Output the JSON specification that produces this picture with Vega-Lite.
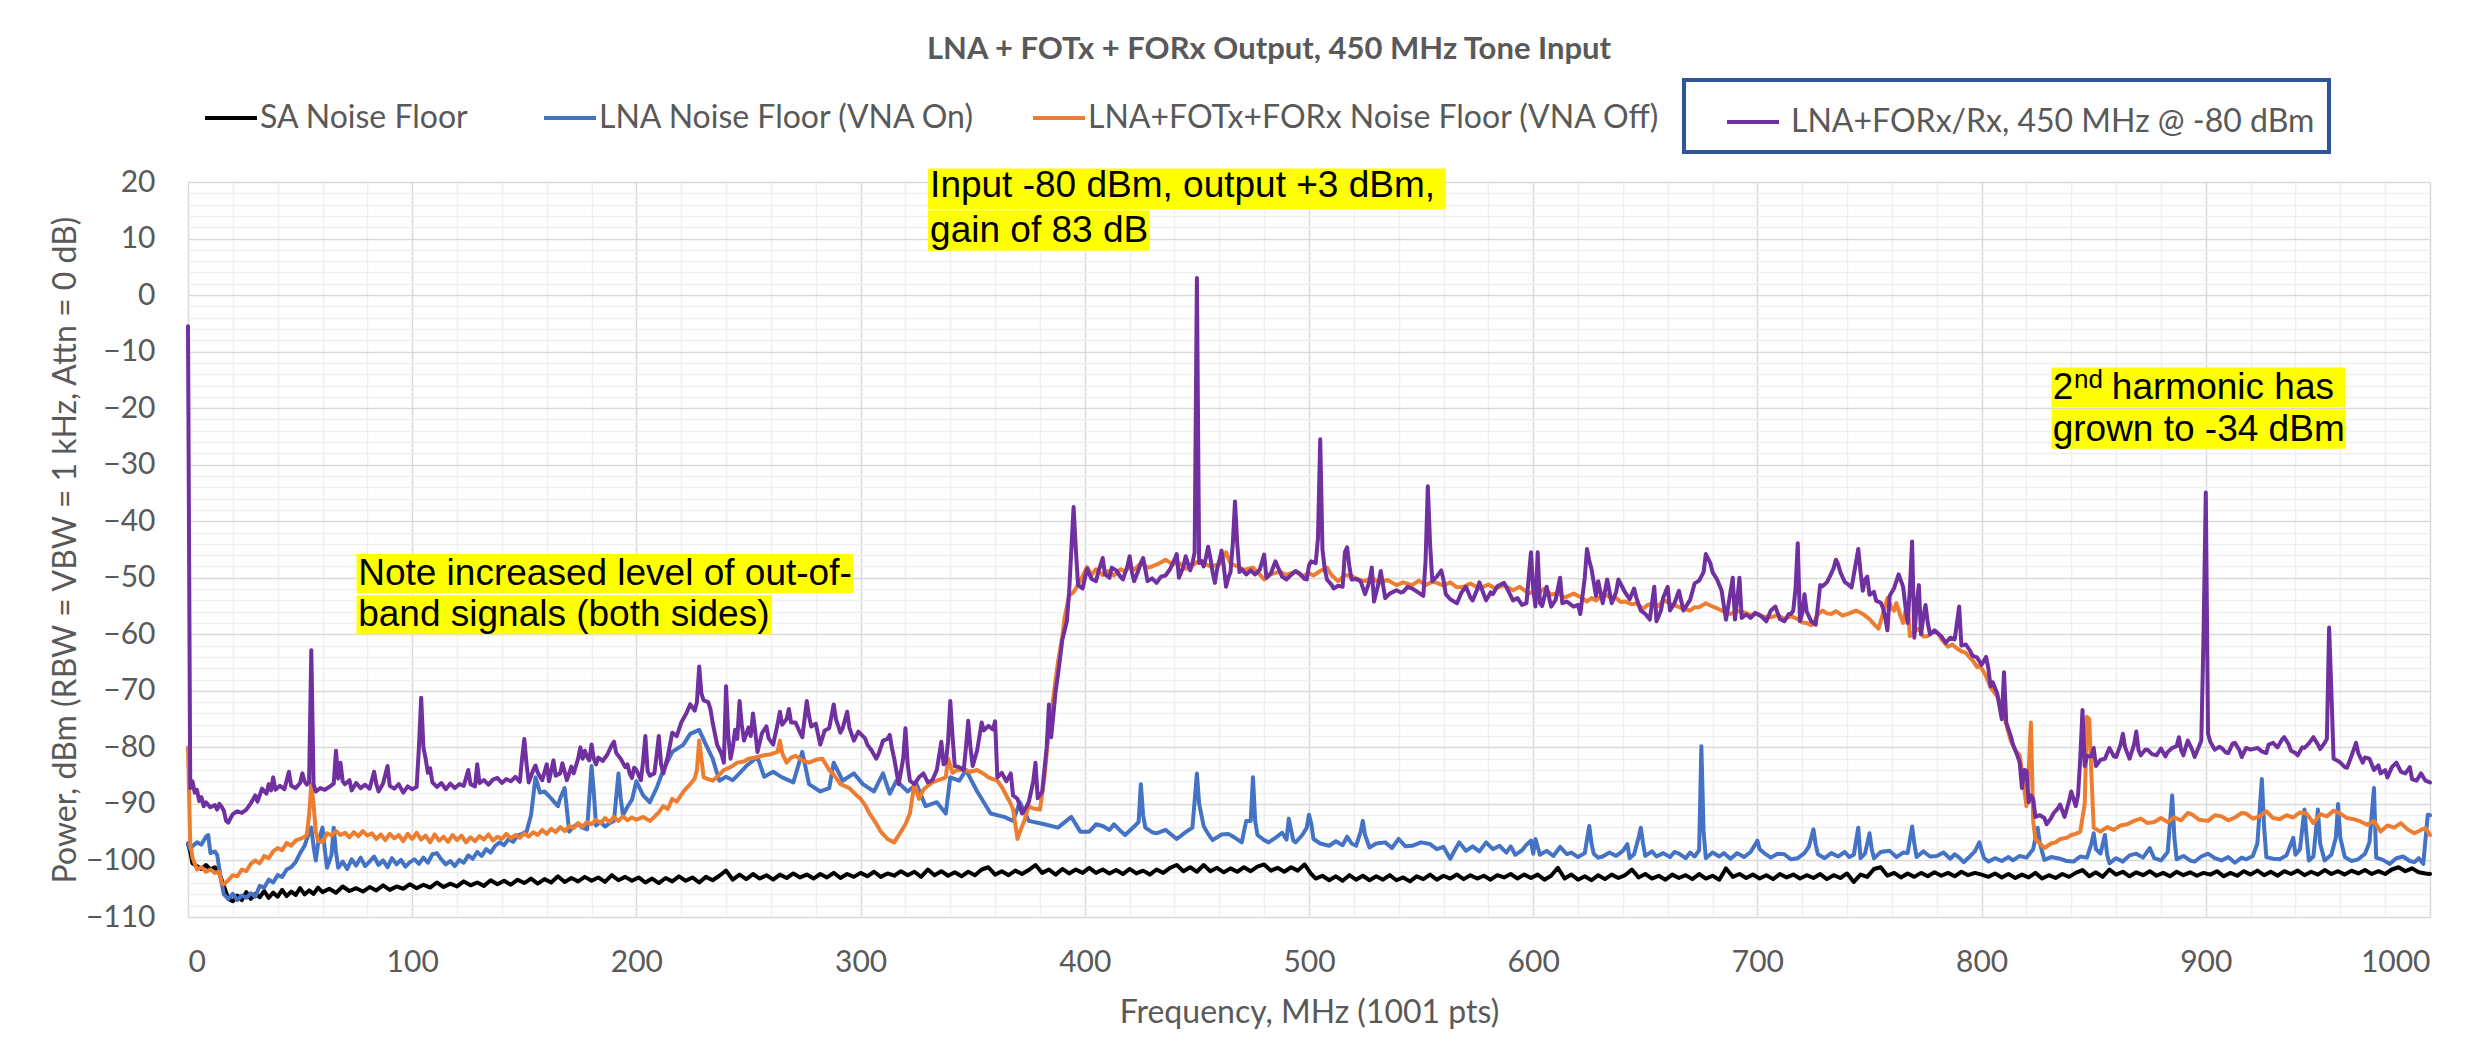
{
"$schema": "https://vega.github.io/schema/vega-lite/v6.json",
"width": 2242, "height": 735,
"autosize": {"type": "none"},
"padding": {"left": 188, "top": 182, "right": 56, "bottom": 145},
"background": "white",
"config": {
  "view": {"stroke": null},
  "font": "Lato",
  "axis": {"labelFont": "Lato", "labelFontSize": 30, "labelColor": "#595959", "titleFont": "Lato", "titleFontSize": 32, "titleColor": "#595959", "titleFontWeight": "normal", "domain": false, "ticks": false, "tickSize": 0},
  "legend": {"labelFont": "Lato", "labelFontSize": 32, "labelColor": "#595959", "labelLimit": 900, "symbolType": "stroke", "symbolSize": 2704, "symbolStrokeWidth": 4, "labelOffset": 1, "orient": "none", "direction": "horizontal", "padding": 0}
},
"title": {"text": "LNA + FOTx + FORx Output, 450 MHz Tone Input", "font": "Lato", "fontSize": 31, "fontWeight": "bold", "color": "#595959", "anchor": "middle", "frame": "group", "dx": -40, "offset": 12},
"datasets": {
"sa": [{"f":0,"v":-97},{"f":1,"v":-98.5},{"f":2,"v":-100.5},{"f":4,"v":-101},{"f":6,"v":-101.5},{"f":8,"v":-100.8},{"f":10,"v":-101.6},{"f":12,"v":-101.2},{"f":14,"v":-102.3},{"f":16,"v":-104.5},{"f":18,"v":-106.8},{"f":20,"v":-107.2},{"f":22,"v":-106.2},{"f":24,"v":-107},{"f":26,"v":-105.6},{"f":28,"v":-106.8},{"f":30,"v":-105.9},{"f":32,"v":-106.5},{"f":34,"v":-105.4},{"f":36,"v":-106.6},{"f":38,"v":-105.7},{"f":40,"v":-106.4},{"f":42,"v":-105.2},{"f":44,"v":-106.3},{"f":46,"v":-105.5},{"f":48,"v":-106.1},{"f":50,"v":-104.9},{"f":52,"v":-106},{"f":54,"v":-105.3},{"f":56,"v":-105.9},{"f":58,"v":-104.8},{"f":60,"v":-105.6},{"f":63,"v":-105},{"f":66,"v":-105.7},{"f":69,"v":-104.6},{"f":72,"v":-105.4},{"f":75,"v":-104.9},{"f":78,"v":-105.5},{"f":81,"v":-104.7},{"f":84,"v":-105.3},{"f":87,"v":-104.4},{"f":90,"v":-105.2},{"f":93,"v":-104.6},{"f":96,"v":-105},{"f":99,"v":-104.2},{"f":102,"v":-104.9},{"f":105,"v":-104.3},{"f":108,"v":-104.8},{"f":111,"v":-103.9},{"f":114,"v":-104.7},{"f":117,"v":-104.1},{"f":120,"v":-104.6},{"f":123,"v":-103.7},{"f":126,"v":-104.4},{"f":129,"v":-103.9},{"f":132,"v":-104.5},{"f":135,"v":-103.5},{"f":138,"v":-104.2},{"f":141,"v":-103.6},{"f":144,"v":-104.3},{"f":147,"v":-103.4},{"f":150,"v":-104},{"f":153,"v":-103.2},{"f":156,"v":-104.1},{"f":159,"v":-103.3},{"f":162,"v":-103.9},{"f":165,"v":-102.8},{"f":168,"v":-103.8},{"f":171,"v":-103.1},{"f":174,"v":-103.7},{"f":177,"v":-102.9},{"f":180,"v":-103.6},{"f":183,"v":-103},{"f":186,"v":-103.8},{"f":189,"v":-102.6},{"f":192,"v":-103.5},{"f":195,"v":-102.9},{"f":198,"v":-103.6},{"f":201,"v":-103},{"f":204,"v":-103.9},{"f":207,"v":-103.2},{"f":210,"v":-104},{"f":213,"v":-103.1},{"f":216,"v":-103.7},{"f":219,"v":-102.8},{"f":222,"v":-103.6},{"f":225,"v":-103},{"f":228,"v":-103.9},{"f":231,"v":-102.9},{"f":234,"v":-103.5},{"f":237,"v":-102.7},{"f":240,"v":-101.8},{"f":243,"v":-103.4},{"f":246,"v":-102.5},{"f":249,"v":-103.3},{"f":252,"v":-102.4},{"f":255,"v":-103.2},{"f":258,"v":-102.6},{"f":261,"v":-103.4},{"f":264,"v":-102.5},{"f":267,"v":-103.1},{"f":270,"v":-102.3},{"f":273,"v":-103},{"f":276,"v":-102.5},{"f":279,"v":-103.2},{"f":282,"v":-102.4},{"f":285,"v":-103},{"f":288,"v":-102.2},{"f":291,"v":-103.1},{"f":294,"v":-102.4},{"f":297,"v":-102.9},{"f":300,"v":-102.2},{"f":303,"v":-102.8},{"f":306,"v":-102},{"f":309,"v":-102.9},{"f":312,"v":-102.3},{"f":315,"v":-102.7},{"f":318,"v":-101.9},{"f":321,"v":-102.6},{"f":324,"v":-102},{"f":327,"v":-102.9},{"f":330,"v":-101.6},{"f":333,"v":-102.6},{"f":336,"v":-101.9},{"f":339,"v":-102.7},{"f":342,"v":-102.1},{"f":345,"v":-102.8},{"f":348,"v":-102},{"f":351,"v":-102.6},{"f":354,"v":-101.6},{"f":357,"v":-101.2},{"f":360,"v":-102.5},{"f":363,"v":-101.9},{"f":366,"v":-102.6},{"f":369,"v":-101.8},{"f":372,"v":-102.4},{"f":375,"v":-101.7},{"f":378,"v":-100.8},{"f":381,"v":-102.2},{"f":384,"v":-101.6},{"f":387,"v":-102.5},{"f":390,"v":-101.5},{"f":393,"v":-102.3},{"f":396,"v":-101.6},{"f":399,"v":-102.2},{"f":402,"v":-101.3},{"f":405,"v":-102.2},{"f":408,"v":-101.6},{"f":411,"v":-102.3},{"f":414,"v":-101.7},{"f":417,"v":-102.4},{"f":420,"v":-101.5},{"f":423,"v":-102.3},{"f":426,"v":-101.8},{"f":429,"v":-102.5},{"f":432,"v":-101.6},{"f":435,"v":-102.2},{"f":438,"v":-101.3},{"f":441,"v":-100.8},{"f":444,"v":-101.9},{"f":447,"v":-101.2},{"f":450,"v":-102},{"f":453,"v":-100.8},{"f":456,"v":-101.9},{"f":459,"v":-101.3},{"f":462,"v":-102.1},{"f":465,"v":-101.4},{"f":468,"v":-102},{"f":471,"v":-101.2},{"f":474,"v":-101.9},{"f":477,"v":-101.1},{"f":480,"v":-100.7},{"f":483,"v":-101.8},{"f":486,"v":-101.3},{"f":489,"v":-102},{"f":492,"v":-101.2},{"f":495,"v":-101.8},{"f":498,"v":-100.7},{"f":501,"v":-102.4},{"f":503,"v":-103.2},{"f":506,"v":-102.7},{"f":509,"v":-103.5},{"f":512,"v":-102.8},{"f":515,"v":-103.6},{"f":518,"v":-102.6},{"f":521,"v":-103.4},{"f":524,"v":-102.7},{"f":527,"v":-103.5},{"f":530,"v":-102.8},{"f":533,"v":-103.4},{"f":536,"v":-102.6},{"f":539,"v":-103.5},{"f":542,"v":-103},{"f":545,"v":-103.7},{"f":548,"v":-102.8},{"f":551,"v":-103.3},{"f":554,"v":-102.5},{"f":557,"v":-103.4},{"f":560,"v":-102.7},{"f":563,"v":-103.2},{"f":566,"v":-102.5},{"f":569,"v":-103.3},{"f":572,"v":-102.6},{"f":575,"v":-103.2},{"f":578,"v":-102.7},{"f":581,"v":-103.4},{"f":584,"v":-102.6},{"f":587,"v":-103},{"f":590,"v":-102.4},{"f":593,"v":-103.2},{"f":596,"v":-102.5},{"f":599,"v":-103.1},{"f":602,"v":-102.5},{"f":605,"v":-103.4},{"f":608,"v":-102.7},{"f":611,"v":-101.3},{"f":614,"v":-103.2},{"f":617,"v":-102.5},{"f":620,"v":-103.4},{"f":623,"v":-102.8},{"f":626,"v":-103.5},{"f":629,"v":-102.6},{"f":632,"v":-103.3},{"f":635,"v":-102.5},{"f":638,"v":-103.1},{"f":641,"v":-102.6},{"f":644,"v":-101.6},{"f":647,"v":-103},{"f":650,"v":-102.4},{"f":653,"v":-103.2},{"f":656,"v":-102.7},{"f":659,"v":-103.4},{"f":662,"v":-102.5},{"f":665,"v":-103.1},{"f":668,"v":-102.6},{"f":671,"v":-103.3},{"f":674,"v":-102.4},{"f":677,"v":-103.2},{"f":680,"v":-102.7},{"f":683,"v":-103.4},{"f":686,"v":-101.4},{"f":689,"v":-102.9},{"f":692,"v":-102.4},{"f":695,"v":-103.1},{"f":698,"v":-102.5},{"f":701,"v":-103.2},{"f":704,"v":-102.6},{"f":707,"v":-103.3},{"f":710,"v":-102.4},{"f":713,"v":-103},{"f":716,"v":-102.5},{"f":719,"v":-103.2},{"f":722,"v":-102.6},{"f":725,"v":-103.1},{"f":728,"v":-102.4},{"f":731,"v":-103.3},{"f":734,"v":-102.6},{"f":737,"v":-103.1},{"f":740,"v":-102.3},{"f":743,"v":-103.8},{"f":746,"v":-102.5},{"f":749,"v":-102.9},{"f":752,"v":-101.5},{"f":755,"v":-101.2},{"f":758,"v":-102.7},{"f":761,"v":-102.2},{"f":764,"v":-103},{"f":767,"v":-102.3},{"f":770,"v":-102.9},{"f":773,"v":-102.2},{"f":776,"v":-102.8},{"f":779,"v":-102.1},{"f":782,"v":-102.7},{"f":785,"v":-102.2},{"f":788,"v":-102.8},{"f":791,"v":-102},{"f":794,"v":-102.6},{"f":797,"v":-102.2},{"f":800,"v":-102.5},{"f":803,"v":-102.9},{"f":806,"v":-102.3},{"f":809,"v":-103},{"f":812,"v":-102.4},{"f":815,"v":-103.1},{"f":818,"v":-102.5},{"f":821,"v":-103},{"f":824,"v":-102.2},{"f":827,"v":-103.2},{"f":830,"v":-102.6},{"f":833,"v":-103.1},{"f":836,"v":-102.4},{"f":839,"v":-102.9},{"f":842,"v":-102.2},{"f":845,"v":-101.7},{"f":848,"v":-102.8},{"f":851,"v":-102.1},{"f":854,"v":-102.9},{"f":857,"v":-101.6},{"f":860,"v":-102.5},{"f":863,"v":-102},{"f":866,"v":-102.8},{"f":869,"v":-102.1},{"f":872,"v":-102.6},{"f":875,"v":-101.9},{"f":878,"v":-102.7},{"f":881,"v":-102.2},{"f":884,"v":-102.8},{"f":887,"v":-102},{"f":890,"v":-102.6},{"f":893,"v":-102.1},{"f":896,"v":-102.7},{"f":899,"v":-102.2},{"f":902,"v":-102.5},{"f":905,"v":-101.9},{"f":908,"v":-102.8},{"f":911,"v":-102.2},{"f":914,"v":-102.7},{"f":917,"v":-101.9},{"f":920,"v":-102.5},{"f":923,"v":-101.8},{"f":926,"v":-102.6},{"f":929,"v":-102},{"f":932,"v":-102.7},{"f":935,"v":-101.9},{"f":938,"v":-102.4},{"f":941,"v":-101.8},{"f":944,"v":-102.6},{"f":947,"v":-102},{"f":950,"v":-102.5},{"f":953,"v":-101.7},{"f":956,"v":-102.4},{"f":959,"v":-101.9},{"f":962,"v":-102.5},{"f":965,"v":-101.8},{"f":968,"v":-102.3},{"f":971,"v":-101.7},{"f":974,"v":-102.4},{"f":977,"v":-101.9},{"f":980,"v":-102.4},{"f":983,"v":-101.6},{"f":986,"v":-101.2},{"f":989,"v":-101.9},{"f":992,"v":-101.4},{"f":995,"v":-102.1},{"f":998,"v":-102.3},{"f":1000,"v":-102.4}],
"lna": [{"f":0,"v":-97},{"f":1,"v":-98},{"f":2,"v":-97.5},{"f":4,"v":-96.8},{"f":6,"v":-97.2},{"f":8,"v":-95.8},{"f":9,"v":-95.5},{"f":10,"v":-98.7},{"f":12,"v":-98.4},{"f":13,"v":-99},{"f":15,"v":-104},{"f":16,"v":-106},{"f":18,"v":-106.8},{"f":20,"v":-105.9},{"f":22,"v":-107},{"f":24,"v":-106.2},{"f":26,"v":-106.6},{"f":28,"v":-105.8},{"f":30,"v":-106.4},{"f":32,"v":-104.5},{"f":34,"v":-104.8},{"f":36,"v":-103.4},{"f":38,"v":-103.9},{"f":40,"v":-102.6},{"f":42,"v":-102.9},{"f":44,"v":-101.6},{"f":46,"v":-101.2},{"f":48,"v":-100.3},{"f":50,"v":-98.7},{"f":52,"v":-97.4},{"f":53,"v":-96.2},{"f":55,"v":-94.2},{"f":56,"v":-97.5},{"f":57,"v":-100},{"f":58,"v":-97},{"f":60,"v":-94.2},{"f":61,"v":-98},{"f":62,"v":-101.3},{"f":64,"v":-99},{"f":65,"v":-94.2},{"f":66,"v":-98.5},{"f":67,"v":-101.3},{"f":69,"v":-100.2},{"f":71,"v":-101.5},{"f":73,"v":-99.8},{"f":75,"v":-100.9},{"f":77,"v":-99.5},{"f":79,"v":-101},{"f":81,"v":-100.2},{"f":83,"v":-99.3},{"f":85,"v":-100.8},{"f":87,"v":-100},{"f":89,"v":-101.2},{"f":91,"v":-99.6},{"f":93,"v":-100.7},{"f":95,"v":-99.9},{"f":97,"v":-101.1},{"f":99,"v":-100.3},{"f":101,"v":-99.8},{"f":103,"v":-100.6},{"f":105,"v":-99.5},{"f":107,"v":-100.4},{"f":109,"v":-98.9},{"f":111,"v":-98.7},{"f":113,"v":-99.8},{"f":115,"v":-100.7},{"f":117,"v":-100.1},{"f":119,"v":-101},{"f":121,"v":-99.9},{"f":123,"v":-100.4},{"f":125,"v":-99.1},{"f":127,"v":-99.7},{"f":129,"v":-98.5},{"f":131,"v":-99.2},{"f":133,"v":-98},{"f":135,"v":-98.6},{"f":137,"v":-97.4},{"f":139,"v":-96.8},{"f":141,"v":-97.3},{"f":143,"v":-96.2},{"f":145,"v":-96.7},{"f":147,"v":-95.6},{"f":149,"v":-95.3},{"f":151,"v":-94.9},{"f":153,"v":-92},{"f":155,"v":-85.3},{"f":157,"v":-88},{"f":159,"v":-87.8},{"f":161,"v":-88.6},{"f":163,"v":-89.5},{"f":165,"v":-90.4},{"f":166,"v":-89},{"f":168,"v":-87.2},{"f":169,"v":-91},{"f":170,"v":-94.9},{"f":172,"v":-94},{"f":174,"v":-93.5},{"f":176,"v":-94.2},{"f":178,"v":-94.5},{"f":180,"v":-83.3},{"f":181,"v":-88},{"f":182,"v":-93.8},{"f":184,"v":-93.2},{"f":186,"v":-94},{"f":188,"v":-93.4},{"f":190,"v":-93},{"f":192,"v":-84.6},{"f":193,"v":-89},{"f":194,"v":-92},{"f":196,"v":-90.5},{"f":198,"v":-89.3},{"f":200,"v":-86},{"f":203,"v":-88.5},{"f":206,"v":-89.7},{"f":209,"v":-87.2},{"f":212,"v":-84},{"f":216,"v":-80.8},{"f":221,"v":-79.5},{"f":224,"v":-77.6},{"f":228,"v":-76.9},{"f":231,"v":-79.5},{"f":234,"v":-82},{"f":237,"v":-85.9},{"f":240,"v":-85.2},{"f":243,"v":-85.8},{"f":245,"v":-85},{"f":249,"v":-83.3},{"f":254,"v":-81.7},{"f":257,"v":-85.2},{"f":261,"v":-84.3},{"f":265,"v":-85.3},{"f":270,"v":-86.2},{"f":274,"v":-80.8},{"f":277,"v":-86.5},{"f":282,"v":-87.8},{"f":286,"v":-87.2},{"f":288,"v":-82.7},{"f":292,"v":-85.9},{"f":297,"v":-84.6},{"f":301,"v":-86.5},{"f":306,"v":-87.8},{"f":310,"v":-84.6},{"f":313,"v":-88.2},{"f":316,"v":-85.9},{"f":321,"v":-87.8},{"f":325,"v":-86.5},{"f":329,"v":-90.4},{"f":334,"v":-89.7},{"f":338,"v":-91.7},{"f":340,"v":-85.3},{"f":344,"v":-85.9},{"f":347,"v":-84},{"f":352,"v":-87.8},{"f":358,"v":-91.7},{"f":364,"v":-92.3},{"f":368,"v":-93},{"f":371,"v":-89.7},{"f":375,"v":-93},{"f":382,"v":-93.6},{"f":388,"v":-94.2},{"f":394,"v":-92.3},{"f":398,"v":-94.9},{"f":402,"v":-94.9},{"f":405,"v":-93.6},{"f":408,"v":-93.9},{"f":411,"v":-94.6},{"f":413,"v":-93.6},{"f":416,"v":-94.8},{"f":418,"v":-95.5},{"f":422,"v":-94},{"f":424,"v":-93.2},{"f":425,"v":-86.5},{"f":426,"v":-92},{"f":427,"v":-94.2},{"f":430,"v":-95},{"f":432,"v":-95.2},{"f":436,"v":-94.6},{"f":441,"v":-96.2},{"f":445,"v":-95},{"f":448,"v":-94.2},{"f":450,"v":-84.6},{"f":451,"v":-90},{"f":453,"v":-93.9},{"f":455,"v":-95.3},{"f":457,"v":-96.4},{"f":461,"v":-95.4},{"f":464,"v":-95.3},{"f":467,"v":-96},{"f":470,"v":-96.8},{"f":472,"v":-93},{"f":474,"v":-93},{"f":475,"v":-85.3},{"f":476,"v":-93},{"f":477,"v":-95.5},{"f":480,"v":-96.4},{"f":482,"v":-96.8},{"f":485,"v":-96},{"f":488,"v":-95.1},{"f":490,"v":-96.3},{"f":491,"v":-92.6},{"f":493,"v":-96.5},{"f":494,"v":-96.8},{"f":497,"v":-95.5},{"f":499,"v":-94.2},{"f":500,"v":-91.9},{"f":501,"v":-93.5},{"f":502,"v":-96.2},{"f":505,"v":-97},{"f":509,"v":-97.4},{"f":512,"v":-96.6},{"f":515,"v":-97.3},{"f":517,"v":-95.8},{"f":519,"v":-97},{"f":521,"v":-97.4},{"f":523,"v":-95},{"f":524,"v":-93},{"f":525,"v":-95.5},{"f":527,"v":-97.7},{"f":530,"v":-97},{"f":534,"v":-96.8},{"f":537,"v":-97.8},{"f":540,"v":-96.2},{"f":543,"v":-97.5},{"f":546,"v":-97.4},{"f":550,"v":-96.8},{"f":554,"v":-97.1},{"f":557,"v":-98},{"f":560,"v":-97.6},{"f":563,"v":-99.7},{"f":565,"v":-98.2},{"f":567,"v":-96.8},{"f":570,"v":-98.3},{"f":573,"v":-97.5},{"f":576,"v":-98.4},{"f":579,"v":-96.8},{"f":582,"v":-98},{"f":585,"v":-97.4},{"f":588,"v":-98.6},{"f":590,"v":-97.5},{"f":592,"v":-99},{"f":595,"v":-98.2},{"f":597,"v":-97.2},{"f":599,"v":-96.5},{"f":600,"v":-98.8},{"f":601,"v":-96.2},{"f":603,"v":-99},{"f":606,"v":-98.3},{"f":609,"v":-99.2},{"f":612,"v":-97.6},{"f":615,"v":-98.9},{"f":617,"v":-98.6},{"f":620,"v":-99.4},{"f":623,"v":-98.7},{"f":625,"v":-93.9},{"f":626,"v":-97},{"f":627,"v":-98.8},{"f":629,"v":-99.5},{"f":631,"v":-99.3},{"f":634,"v":-98.6},{"f":637,"v":-99.2},{"f":640,"v":-98.3},{"f":642,"v":-97.1},{"f":643,"v":-99.6},{"f":645,"v":-98.9},{"f":647,"v":-96},{"f":648,"v":-94.2},{"f":649,"v":-97},{"f":650,"v":-99.2},{"f":653,"v":-98.4},{"f":655,"v":-99.3},{"f":658,"v":-98.7},{"f":661,"v":-99.4},{"f":663,"v":-98.5},{"f":665,"v":-98.8},{"f":668,"v":-99.6},{"f":670,"v":-98.6},{"f":672,"v":-99.3},{"f":674,"v":-98.2},{"f":675,"v":-79.8},{"f":676,"v":-95},{"f":677,"v":-99.6},{"f":680,"v":-98.6},{"f":683,"v":-99.3},{"f":685,"v":-98.7},{"f":688,"v":-99.7},{"f":691,"v":-98.7},{"f":694,"v":-99.4},{"f":697,"v":-98.5},{"f":700,"v":-96.5},{"f":701,"v":-98},{"f":703,"v":-98.7},{"f":706,"v":-99.5},{"f":709,"v":-98.8},{"f":712,"v":-98.9},{"f":715,"v":-99.8},{"f":718,"v":-99.6},{"f":721,"v":-98.7},{"f":723,"v":-97.5},{"f":725,"v":-94.5},{"f":726,"v":-97.2},{"f":727,"v":-98.9},{"f":730,"v":-99.6},{"f":733,"v":-98.7},{"f":736,"v":-99.3},{"f":739,"v":-98.5},{"f":741,"v":-99.4},{"f":743,"v":-99},{"f":745,"v":-94.2},{"f":746,"v":-99.6},{"f":748,"v":-98.8},{"f":750,"v":-95.2},{"f":751,"v":-98},{"f":752,"v":-99.6},{"f":755,"v":-98.5},{"f":759,"v":-98.3},{"f":762,"v":-99.4},{"f":765,"v":-98.6},{"f":767,"v":-98.7},{"f":769,"v":-94},{"f":770,"v":-97},{"f":771,"v":-99.4},{"f":774,"v":-98.4},{"f":777,"v":-99.3},{"f":780,"v":-99.2},{"f":783,"v":-98.6},{"f":786,"v":-99.7},{"f":788,"v":-98.9},{"f":790,"v":-99.5},{"f":792,"v":-100.3},{"f":795,"v":-99.2},{"f":797,"v":-98.4},{"f":799,"v":-96.8},{"f":801,"v":-99.5},{"f":803,"v":-100.2},{"f":806,"v":-99.6},{"f":809,"v":-100.1},{"f":812,"v":-99.4},{"f":814,"v":-100},{"f":817,"v":-99.2},{"f":820,"v":-99.5},{"f":823,"v":-98},{"f":825,"v":-94.2},{"f":826,"v":-97},{"f":828,"v":-99.9},{"f":831,"v":-99.4},{"f":835,"v":-99.7},{"f":838,"v":-100.1},{"f":841,"v":-100.2},{"f":844,"v":-99.3},{"f":847,"v":-99.5},{"f":849,"v":-97},{"f":850,"v":-95.2},{"f":851,"v":-98},{"f":853,"v":-98.8},{"f":855,"v":-95.5},{"f":856,"v":-99},{"f":857,"v":-100.5},{"f":860,"v":-99.6},{"f":863,"v":-100.2},{"f":866,"v":-99.1},{"f":869,"v":-98.8},{"f":872,"v":-99.5},{"f":875,"v":-97.8},{"f":877,"v":-99.6},{"f":880,"v":-100},{"f":883,"v":-98.5},{"f":885,"v":-88.5},{"f":886,"v":-96},{"f":887,"v":-99.8},{"f":890,"v":-99.2},{"f":893,"v":-100},{"f":895,"v":-100.2},{"f":898,"v":-99.3},{"f":901,"v":-98.8},{"f":904,"v":-99.6},{"f":907,"v":-100},{"f":910,"v":-99.4},{"f":913,"v":-100.4},{"f":916,"v":-99.5},{"f":918,"v":-99.8},{"f":921,"v":-99.2},{"f":923,"v":-97},{"f":925,"v":-85.6},{"f":926,"v":-94},{"f":927,"v":-99.4},{"f":930,"v":-99.7},{"f":933,"v":-99.8},{"f":936,"v":-99.1},{"f":939,"v":-96},{"f":940,"v":-99},{"f":942,"v":-98},{"f":944,"v":-91},{"f":945,"v":-96},{"f":946,"v":-100},{"f":948,"v":-99.3},{"f":950,"v":-91},{"f":951,"v":-97},{"f":953,"v":-100},{"f":956,"v":-99},{"f":958,"v":-96},{"f":959,"v":-90},{"f":960,"v":-96},{"f":962,"v":-99.4},{"f":965,"v":-100.1},{"f":968,"v":-99.8},{"f":971,"v":-98.8},{"f":973,"v":-96.8},{"f":975,"v":-87.2},{"f":976,"v":-99.5},{"f":979,"v":-99.9},{"f":982,"v":-100.6},{"f":985,"v":-99.6},{"f":988,"v":-99.3},{"f":991,"v":-100.1},{"f":993,"v":-100.3},{"f":995,"v":-99.6},{"f":997,"v":-100.6},{"f":999,"v":-91.9},{"f":1000,"v":-92}],
"fotx": [{"f":0,"v":-80},{"f":1,"v":-97},{"f":2,"v":-99.5},{"f":4,"v":-101.6},{"f":6,"v":-101.2},{"f":8,"v":-102},{"f":10,"v":-101.6},{"f":12,"v":-102.2},{"f":14,"v":-102},{"f":15,"v":-104},{"f":16,"v":-104.2},{"f":18,"v":-103.5},{"f":20,"v":-102.6},{"f":22,"v":-102.8},{"f":24,"v":-101.6},{"f":26,"v":-101.9},{"f":28,"v":-100.6},{"f":30,"v":-100},{"f":32,"v":-100.5},{"f":34,"v":-99.2},{"f":36,"v":-99.6},{"f":38,"v":-98.4},{"f":40,"v":-97.8},{"f":42,"v":-98.2},{"f":44,"v":-96.9},{"f":46,"v":-97.4},{"f":48,"v":-96.5},{"f":50,"v":-96.2},{"f":52,"v":-95.8},{"f":53,"v":-95.5},{"f":54,"v":-92},{"f":55,"v":-86.5},{"f":56,"v":-90},{"f":57,"v":-94.9},{"f":58,"v":-96.5},{"f":60,"v":-96.8},{"f":62,"v":-95.2},{"f":64,"v":-95.6},{"f":66,"v":-94.8},{"f":68,"v":-95.5},{"f":70,"v":-95.1},{"f":72,"v":-95.9},{"f":74,"v":-95},{"f":76,"v":-95.7},{"f":78,"v":-94.8},{"f":80,"v":-95.6},{"f":82,"v":-95.2},{"f":84,"v":-96.2},{"f":86,"v":-95.4},{"f":88,"v":-96.4},{"f":90,"v":-95.3},{"f":92,"v":-96.1},{"f":94,"v":-95.5},{"f":96,"v":-96.6},{"f":98,"v":-95.3},{"f":100,"v":-96.2},{"f":102,"v":-95.1},{"f":104,"v":-96.3},{"f":106,"v":-95.6},{"f":108,"v":-96.8},{"f":110,"v":-95.4},{"f":112,"v":-96.5},{"f":114,"v":-95.8},{"f":116,"v":-96.7},{"f":118,"v":-95.5},{"f":120,"v":-96.4},{"f":122,"v":-95.6},{"f":124,"v":-96.8},{"f":126,"v":-95.9},{"f":128,"v":-96.6},{"f":130,"v":-95.7},{"f":132,"v":-96.3},{"f":134,"v":-95.4},{"f":136,"v":-96.5},{"f":138,"v":-95.8},{"f":140,"v":-96.2},{"f":142,"v":-95.3},{"f":144,"v":-96.1},{"f":146,"v":-95.5},{"f":148,"v":-96},{"f":150,"v":-95.2},{"f":152,"v":-95.8},{"f":154,"v":-95},{"f":156,"v":-95.5},{"f":158,"v":-94.6},{"f":160,"v":-95.3},{"f":162,"v":-94.4},{"f":164,"v":-95},{"f":166,"v":-94.1},{"f":168,"v":-94.8},{"f":170,"v":-93.9},{"f":172,"v":-94.3},{"f":174,"v":-93.4},{"f":176,"v":-94},{"f":178,"v":-93.2},{"f":180,"v":-93.6},{"f":182,"v":-92.8},{"f":184,"v":-93.4},{"f":186,"v":-92.5},{"f":188,"v":-93.2},{"f":190,"v":-92.3},{"f":192,"v":-93},{"f":194,"v":-92.2},{"f":196,"v":-92.9},{"f":198,"v":-92.4},{"f":200,"v":-92.8},{"f":203,"v":-92.3},{"f":206,"v":-93},{"f":208,"v":-92.3},{"f":210,"v":-91.5},{"f":212,"v":-90.4},{"f":214,"v":-90.9},{"f":216,"v":-89.1},{"f":218,"v":-89.6},{"f":221,"v":-87.8},{"f":224,"v":-86.5},{"f":226,"v":-85.5},{"f":227,"v":-84},{"f":228,"v":-78.8},{"f":229,"v":-82},{"f":230,"v":-85.3},{"f":232,"v":-85.6},{"f":234,"v":-85.9},{"f":236,"v":-85.2},{"f":239,"v":-84},{"f":242,"v":-83.5},{"f":245,"v":-82.7},{"f":248,"v":-82.5},{"f":250,"v":-82},{"f":253,"v":-81.8},{"f":257,"v":-81.4},{"f":260,"v":-81.2},{"f":263,"v":-80.8},{"f":264,"v":-78.8},{"f":265,"v":-81},{"f":267,"v":-82.7},{"f":269,"v":-81.8},{"f":271,"v":-81.5},{"f":274,"v":-82.3},{"f":277,"v":-82.7},{"f":280,"v":-82.2},{"f":283,"v":-82},{"f":286,"v":-84},{"f":288,"v":-84.8},{"f":291,"v":-86.5},{"f":295,"v":-87.2},{"f":298,"v":-88.4},{"f":300,"v":-89.1},{"f":302,"v":-90.2},{"f":304,"v":-91.7},{"f":307,"v":-93.5},{"f":309,"v":-94.9},{"f":312,"v":-96.2},{"f":315,"v":-96.8},{"f":318,"v":-94.9},{"f":320,"v":-93.6},{"f":322,"v":-91.7},{"f":323,"v":-89},{"f":324,"v":-86.5},{"f":326,"v":-89.1},{"f":328,"v":-87.5},{"f":330,"v":-86.8},{"f":332,"v":-86.2},{"f":334,"v":-85.9},{"f":336,"v":-85.6},{"f":338,"v":-85.3},{"f":339,"v":-82},{"f":341,"v":-84.5},{"f":343,"v":-84},{"f":346,"v":-84},{"f":349,"v":-84.3},{"f":352,"v":-84},{"f":355,"v":-84.7},{"f":357,"v":-85.3},{"f":359,"v":-85.6},{"f":361,"v":-85.9},{"f":363,"v":-87},{"f":365,"v":-88.5},{"f":367,"v":-90},{"f":368,"v":-91},{"f":370,"v":-96.2},{"f":371,"v":-95},{"f":373,"v":-93},{"f":375,"v":-90.4},{"f":377,"v":-90.8},{"f":380,"v":-91},{"f":382,"v":-85.3},{"f":384,"v":-76.9},{"f":385,"v":-74},{"f":387,"v":-68},{"f":388,"v":-65},{"f":390,"v":-60.3},{"f":391,"v":-57},{"f":393,"v":-53.2},{"f":395,"v":-52.5},{"f":396,"v":-51.9},{"f":398,"v":-50.5},{"f":401,"v":-48.1},{"f":403,"v":-49.5},{"f":405,"v":-48.5},{"f":408,"v":-49.5},{"f":410,"v":-48.8},{"f":413,"v":-49.6},{"f":416,"v":-48.5},{"f":418,"v":-48.9},{"f":420,"v":-48},{"f":422,"v":-48.6},{"f":425,"v":-47.4},{"f":428,"v":-48.2},{"f":430,"v":-48},{"f":433,"v":-47.5},{"f":436,"v":-46.8},{"f":439,"v":-47.6},{"f":442,"v":-47.4},{"f":445,"v":-48.4},{"f":447,"v":-48.2},{"f":450,"v":-47.2},{"f":453,"v":-47.4},{"f":456,"v":-48},{"f":460,"v":-47.6},{"f":463,"v":-45.5},{"f":465,"v":-47.5},{"f":468,"v":-48},{"f":471,"v":-48.6},{"f":475,"v":-48.2},{"f":478,"v":-49.4},{"f":480,"v":-50.3},{"f":483,"v":-49.4},{"f":487,"v":-48.9},{"f":490,"v":-49.5},{"f":494,"v":-48.9},{"f":497,"v":-49.7},{"f":500,"v":-49.2},{"f":502,"v":-49.6},{"f":505,"v":-48.8},{"f":508,"v":-48.2},{"f":510,"v":-49.5},{"f":513,"v":-50.6},{"f":516,"v":-49.5},{"f":519,"v":-49.7},{"f":522,"v":-50.3},{"f":525,"v":-50.6},{"f":528,"v":-49.9},{"f":531,"v":-50.9},{"f":535,"v":-50.4},{"f":539,"v":-51.3},{"f":542,"v":-50.8},{"f":546,"v":-51.3},{"f":549,"v":-50.5},{"f":552,"v":-51.3},{"f":555,"v":-50.7},{"f":557,"v":-50.9},{"f":560,"v":-51.4},{"f":563,"v":-50.8},{"f":566,"v":-51.7},{"f":569,"v":-51.6},{"f":572,"v":-51},{"f":576,"v":-51.9},{"f":580,"v":-51.2},{"f":583,"v":-51.9},{"f":587,"v":-51.3},{"f":591,"v":-52.2},{"f":594,"v":-51.6},{"f":598,"v":-52.8},{"f":600,"v":-52.5},{"f":603,"v":-52.5},{"f":605,"v":-51.9},{"f":608,"v":-53},{"f":611,"v":-52.7},{"f":614,"v":-53.5},{"f":618,"v":-52.8},{"f":621,"v":-53.4},{"f":624,"v":-54.2},{"f":626,"v":-53.6},{"f":628,"v":-54},{"f":630,"v":-53.3},{"f":633,"v":-53.1},{"f":635,"v":-53.8},{"f":637,"v":-53.6},{"f":639,"v":-54.3},{"f":641,"v":-54.2},{"f":644,"v":-54.7},{"f":646,"v":-54.5},{"f":649,"v":-55.5},{"f":651,"v":-54.8},{"f":654,"v":-54.5},{"f":656,"v":-55},{"f":658,"v":-53.9},{"f":661,"v":-54.6},{"f":664,"v":-55},{"f":667,"v":-55.5},{"f":670,"v":-55.8},{"f":672,"v":-55.2},{"f":674,"v":-55.2},{"f":677,"v":-54.5},{"f":679,"v":-54.9},{"f":682,"v":-55.4},{"f":684,"v":-55.8},{"f":686,"v":-56.2},{"f":688,"v":-56.4},{"f":691,"v":-55.9},{"f":694,"v":-56.1},{"f":697,"v":-56.6},{"f":700,"v":-56.4},{"f":703,"v":-56.9},{"f":706,"v":-57},{"f":709,"v":-56.6},{"f":712,"v":-57.3},{"f":715,"v":-56.8},{"f":718,"v":-57.3},{"f":720,"v":-57.9},{"f":722,"v":-58},{"f":724,"v":-58.4},{"f":725,"v":-58},{"f":727,"v":-56.5},{"f":729,"v":-55.8},{"f":731,"v":-56.3},{"f":733,"v":-56.4},{"f":735,"v":-55.9},{"f":738,"v":-56.7},{"f":741,"v":-56.3},{"f":744,"v":-55.8},{"f":747,"v":-56.4},{"f":750,"v":-57.3},{"f":752,"v":-58.2},{"f":754,"v":-59},{"f":756,"v":-56.4},{"f":758,"v":-53.6},{"f":760,"v":-55.5},{"f":761,"v":-55.8},{"f":762,"v":-54.5},{"f":764,"v":-57},{"f":765,"v":-58},{"f":766,"v":-56},{"f":767,"v":-54.5},{"f":768,"v":-60.3},{"f":770,"v":-59.5},{"f":772,"v":-59},{"f":774,"v":-60.4},{"f":776,"v":-60.3},{"f":778,"v":-59.7},{"f":780,"v":-59.5},{"f":782,"v":-60.8},{"f":785,"v":-62.2},{"f":787,"v":-61.8},{"f":789,"v":-62.5},{"f":791,"v":-63},{"f":793,"v":-63.3},{"f":795,"v":-64.2},{"f":796,"v":-64.6},{"f":798,"v":-65.8},{"f":799,"v":-65.6},{"f":800,"v":-66},{"f":802,"v":-67.4},{"f":804,"v":-69.4},{"f":807,"v":-71},{"f":810,"v":-74.5},{"f":813,"v":-78.8},{"f":815,"v":-80.5},{"f":817,"v":-81.4},{"f":819,"v":-87.2},{"f":820,"v":-90.4},{"f":821,"v":-84},{"f":822,"v":-75.6},{"f":823,"v":-93},{"f":824,"v":-96.2},{"f":826,"v":-97},{"f":828,"v":-97.8},{"f":831,"v":-97},{"f":833,"v":-96.8},{"f":835,"v":-96.2},{"f":838,"v":-96},{"f":840,"v":-95.5},{"f":842,"v":-95.3},{"f":844,"v":-94.9},{"f":846,"v":-90},{"f":847,"v":-74.6},{"f":848,"v":-75},{"f":849,"v":-85},{"f":850,"v":-94.2},{"f":853,"v":-94.9},{"f":856,"v":-94.1},{"f":859,"v":-94.6},{"f":862,"v":-93.8},{"f":865,"v":-93.6},{"f":868,"v":-93},{"f":871,"v":-92.6},{"f":874,"v":-93.4},{"f":877,"v":-93.2},{"f":880,"v":-92.5},{"f":883,"v":-93.2},{"f":886,"v":-92.4},{"f":889,"v":-92.9},{"f":892,"v":-91.6},{"f":894,"v":-91.9},{"f":897,"v":-92.8},{"f":901,"v":-93},{"f":904,"v":-92},{"f":907,"v":-92.2},{"f":910,"v":-92.9},{"f":913,"v":-92.4},{"f":916,"v":-91.6},{"f":918,"v":-91.7},{"f":921,"v":-92.6},{"f":924,"v":-92.2},{"f":927,"v":-91.3},{"f":930,"v":-92.5},{"f":933,"v":-92.7},{"f":936,"v":-92},{"f":939,"v":-92.4},{"f":942,"v":-91.5},{"f":945,"v":-91.7},{"f":948,"v":-93.4},{"f":951,"v":-91.8},{"f":954,"v":-92.2},{"f":957,"v":-91.2},{"f":960,"v":-91.7},{"f":963,"v":-92.5},{"f":966,"v":-92.7},{"f":969,"v":-93.1},{"f":972,"v":-93.7},{"f":975,"v":-93},{"f":978,"v":-94.9},{"f":981,"v":-93.8},{"f":984,"v":-94.2},{"f":987,"v":-93.4},{"f":990,"v":-94.5},{"f":993,"v":-95.2},{"f":996,"v":-94.6},{"f":998,"v":-94.3},{"f":1000,"v":-95.5}],
"rx": [{"f":0,"v":-5.5},{"f":1,"v":-87.2},{"f":2,"v":-86},{"f":3,"v":-88},{"f":4,"v":-87.5},{"f":5,"v":-89.5},{"f":6,"v":-88.8},{"f":7,"v":-90.4},{"f":8,"v":-89.7},{"f":10,"v":-90.6},{"f":12,"v":-90.2},{"f":13,"v":-91},{"f":14,"v":-90},{"f":15,"v":-90.5},{"f":16,"v":-91.2},{"f":17,"v":-93},{"f":18,"v":-93.3},{"f":19,"v":-92.5},{"f":20,"v":-91.8},{"f":22,"v":-91.3},{"f":24,"v":-91.6},{"f":26,"v":-91},{"f":28,"v":-89.9},{"f":30,"v":-88.5},{"f":31,"v":-89.6},{"f":33,"v":-87.3},{"f":35,"v":-88.2},{"f":36,"v":-86.5},{"f":37,"v":-87.6},{"f":38,"v":-85.3},{"f":39,"v":-87.5},{"f":41,"v":-86.8},{"f":43,"v":-87.4},{"f":45,"v":-84.3},{"f":46,"v":-86.8},{"f":48,"v":-87.2},{"f":50,"v":-86.3},{"f":51,"v":-84.6},{"f":52,"v":-86},{"f":53,"v":-86.6},{"f":54,"v":-86.2},{"f":55,"v":-62.8},{"f":56,"v":-86.5},{"f":57,"v":-87.8},{"f":59,"v":-87.2},{"f":61,"v":-87.5},{"f":63,"v":-87},{"f":65,"v":-86.4},{"f":66,"v":-80.6},{"f":67,"v":-85.5},{"f":68,"v":-82.7},{"f":69,"v":-86},{"f":70,"v":-86.5},{"f":72,"v":-85.8},{"f":73,"v":-87.6},{"f":75,"v":-86.3},{"f":77,"v":-87.2},{"f":79,"v":-86.6},{"f":81,"v":-87.3},{"f":83,"v":-84.3},{"f":84,"v":-86.5},{"f":85,"v":-87.8},{"f":87,"v":-86.4},{"f":89,"v":-83.3},{"f":90,"v":-86.8},{"f":92,"v":-87.3},{"f":94,"v":-86.5},{"f":96,"v":-88},{"f":98,"v":-86.9},{"f":100,"v":-87.4},{"f":102,"v":-87},{"f":103,"v":-80},{"f":104,"v":-71.2},{"f":105,"v":-80},{"f":106,"v":-82},{"f":107,"v":-84.5},{"f":108,"v":-83.7},{"f":109,"v":-86.2},{"f":111,"v":-87},{"f":113,"v":-86.3},{"f":115,"v":-87.4},{"f":117,"v":-86.4},{"f":119,"v":-87.2},{"f":121,"v":-86.5},{"f":123,"v":-86.8},{"f":125,"v":-84},{"f":126,"v":-86.5},{"f":128,"v":-86.9},{"f":129,"v":-83},{"f":130,"v":-86.3},{"f":132,"v":-85.8},{"f":134,"v":-86.6},{"f":136,"v":-85.7},{"f":138,"v":-85.4},{"f":140,"v":-86.3},{"f":142,"v":-85.6},{"f":144,"v":-86},{"f":146,"v":-85.2},{"f":148,"v":-86.1},{"f":149,"v":-82},{"f":150,"v":-78.5},{"f":151,"v":-83},{"f":152,"v":-86.2},{"f":154,"v":-84},{"f":155,"v":-83.2},{"f":156,"v":-84.5},{"f":158,"v":-85.8},{"f":160,"v":-83},{"f":161,"v":-86},{"f":163,"v":-82.3},{"f":164,"v":-85},{"f":166,"v":-84.6},{"f":167,"v":-82.8},{"f":169,"v":-85.8},{"f":171,"v":-83.4},{"f":172,"v":-84.6},{"f":174,"v":-82},{"f":175,"v":-80},{"f":176,"v":-82},{"f":177,"v":-80.6},{"f":178,"v":-81.7},{"f":179,"v":-82.3},{"f":180,"v":-79.5},{"f":181,"v":-82},{"f":182,"v":-83},{"f":183,"v":-81.8},{"f":185,"v":-82.4},{"f":187,"v":-81.3},{"f":189,"v":-79.6},{"f":190,"v":-79},{"f":191,"v":-81},{"f":193,"v":-82},{"f":195,"v":-83.5},{"f":196,"v":-83},{"f":197,"v":-84.6},{"f":198,"v":-85.4},{"f":199,"v":-83.6},{"f":200,"v":-84},{"f":202,"v":-85.8},{"f":203,"v":-82.4},{"f":204,"v":-78},{"f":205,"v":-84.2},{"f":206,"v":-85},{"f":208,"v":-84.6},{"f":209,"v":-81.5},{"f":210,"v":-78},{"f":211,"v":-83},{"f":212,"v":-84.6},{"f":214,"v":-81.6},{"f":216,"v":-77.4},{"f":218,"v":-78},{"f":220,"v":-75.6},{"f":222,"v":-74.2},{"f":224,"v":-72.4},{"f":226,"v":-73.5},{"f":227,"v":-72},{"f":228,"v":-65.7},{"f":229,"v":-70.5},{"f":230,"v":-71.7},{"f":232,"v":-72},{"f":233,"v":-73.2},{"f":234,"v":-75.6},{"f":236,"v":-79.5},{"f":238,"v":-81.2},{"f":239,"v":-82.7},{"f":240,"v":-69.2},{"f":241,"v":-78},{"f":242,"v":-82},{"f":243,"v":-80},{"f":244,"v":-76.9},{"f":245,"v":-78.5},{"f":246,"v":-71.8},{"f":247,"v":-76},{"f":248,"v":-78.8},{"f":250,"v":-76.5},{"f":251,"v":-78},{"f":252,"v":-74},{"f":253,"v":-77.2},{"f":254,"v":-80.8},{"f":256,"v":-77.5},{"f":258,"v":-76.3},{"f":259,"v":-78.4},{"f":261,"v":-79.5},{"f":263,"v":-75.8},{"f":264,"v":-73.7},{"f":265,"v":-76},{"f":267,"v":-75},{"f":268,"v":-73.2},{"f":269,"v":-75.6},{"f":271,"v":-75.6},{"f":273,"v":-77.4},{"f":274,"v":-78.2},{"f":276,"v":-71.8},{"f":277,"v":-74.5},{"f":278,"v":-76.3},{"f":280,"v":-75.8},{"f":282,"v":-79.5},{"f":284,"v":-77},{"f":286,"v":-76.6},{"f":288,"v":-72.4},{"f":289,"v":-75},{"f":291,"v":-77.4},{"f":292,"v":-76.6},{"f":294,"v":-73.7},{"f":295,"v":-76.5},{"f":297,"v":-78.8},{"f":299,"v":-77.2},{"f":300,"v":-77.6},{"f":302,"v":-78.4},{"f":303,"v":-79.5},{"f":305,"v":-80.6},{"f":307,"v":-82},{"f":308,"v":-81.2},{"f":310,"v":-78.8},{"f":312,"v":-78.5},{"f":313,"v":-77.8},{"f":314,"v":-80.2},{"f":315,"v":-82},{"f":317,"v":-86.5},{"f":319,"v":-82},{"f":320,"v":-76.6},{"f":321,"v":-83},{"f":322,"v":-85.9},{"f":324,"v":-86.5},{"f":326,"v":-85.3},{"f":328,"v":-84.6},{"f":330,"v":-86.2},{"f":332,"v":-85.8},{"f":334,"v":-84},{"f":336,"v":-79},{"f":337,"v":-83},{"f":338,"v":-82.7},{"f":339,"v":-79},{"f":340,"v":-71.8},{"f":341,"v":-78},{"f":342,"v":-83.3},{"f":344,"v":-83.5},{"f":346,"v":-84},{"f":347,"v":-80},{"f":348,"v":-75.3},{"f":349,"v":-80},{"f":350,"v":-83.3},{"f":352,"v":-80.5},{"f":354,"v":-75.6},{"f":355,"v":-77},{"f":357,"v":-76.2},{"f":359,"v":-76.8},{"f":360,"v":-75.4},{"f":361,"v":-85.3},{"f":363,"v":-84.5},{"f":365,"v":-86},{"f":367,"v":-84.6},{"f":368,"v":-88.5},{"f":370,"v":-89.1},{"f":372,"v":-91.7},{"f":374,"v":-90.5},{"f":375,"v":-89.7},{"f":377,"v":-86},{"f":378,"v":-82.7},{"f":379,"v":-89},{"f":381,"v":-87.8},{"f":383,"v":-80},{"f":384,"v":-72.4},{"f":385,"v":-78.2},{"f":387,"v":-70},{"f":388,"v":-67.3},{"f":390,"v":-60.9},{"f":392,"v":-57.7},{"f":393,"v":-52.6},{"f":394,"v":-45},{"f":395,"v":-37.5},{"f":396,"v":-45},{"f":397,"v":-51.3},{"f":399,"v":-51.9},{"f":401,"v":-48.4},{"f":403,"v":-50.2},{"f":405,"v":-50.6},{"f":406,"v":-49},{"f":408,"v":-46.5},{"f":409,"v":-49.4},{"f":411,"v":-50},{"f":412,"v":-48.2},{"f":414,"v":-48.7},{"f":416,"v":-49.9},{"f":417,"v":-50.3},{"f":419,"v":-48},{"f":420,"v":-46.2},{"f":421,"v":-49},{"f":422,"v":-50.6},{"f":424,"v":-48.6},{"f":425,"v":-47.4},{"f":426,"v":-46.5},{"f":428,"v":-50.6},{"f":430,"v":-50.1},{"f":432,"v":-50.9},{"f":434,"v":-49.8},{"f":436,"v":-49.6},{"f":438,"v":-48.5},{"f":440,"v":-46.8},{"f":441,"v":-45.8},{"f":442,"v":-50},{"f":444,"v":-48},{"f":445,"v":-46.2},{"f":447,"v":-48.7},{"f":448,"v":-47.4},{"f":449,"v":-45.5},{"f":450,"v":3},{"f":451,"v":-47.4},{"f":452,"v":-47},{"f":453,"v":-48},{"f":454,"v":-46.5},{"f":455,"v":-44.5},{"f":456,"v":-46.5},{"f":457,"v":-49},{"f":458,"v":-50.9},{"f":459,"v":-48.5},{"f":460,"v":-47},{"f":461,"v":-45.2},{"f":462,"v":-48},{"f":463,"v":-51.6},{"f":464,"v":-50},{"f":465,"v":-49},{"f":466,"v":-44},{"f":467,"v":-36.5},{"f":468,"v":-44},{"f":469,"v":-49},{"f":470,"v":-48.5},{"f":472,"v":-49.4},{"f":474,"v":-48.7},{"f":476,"v":-49.4},{"f":478,"v":-48.6},{"f":480,"v":-45.9},{"f":481,"v":-50},{"f":483,"v":-49.2},{"f":485,"v":-47.1},{"f":486,"v":-48},{"f":488,"v":-49.8},{"f":490,"v":-50.3},{"f":492,"v":-49.5},{"f":494,"v":-48.8},{"f":496,"v":-49.3},{"f":498,"v":-50.2},{"f":499,"v":-50.3},{"f":500,"v":-47.8},{"f":501,"v":-47.1},{"f":503,"v":-47.4},{"f":504,"v":-43},{"f":505,"v":-25.5},{"f":506,"v":-45},{"f":507,"v":-48.4},{"f":508,"v":-50.3},{"f":510,"v":-51.2},{"f":511,"v":-51.9},{"f":513,"v":-51.4},{"f":515,"v":-51.6},{"f":516,"v":-45.5},{"f":517,"v":-44.6},{"f":518,"v":-48},{"f":519,"v":-50.3},{"f":521,"v":-50.2},{"f":523,"v":-50.6},{"f":525,"v":-52.9},{"f":527,"v":-50.6},{"f":528,"v":-48.2},{"f":529,"v":-54.2},{"f":531,"v":-51},{"f":532,"v":-48.8},{"f":534,"v":-53.6},{"f":536,"v":-52.8},{"f":539,"v":-52.2},{"f":541,"v":-52.6},{"f":542,"v":-52.5},{"f":544,"v":-51.6},{"f":546,"v":-51.9},{"f":548,"v":-52.4},{"f":551,"v":-53.2},{"f":552,"v":-47},{"f":553,"v":-33.8},{"f":554,"v":-44},{"f":555,"v":-50.6},{"f":557,"v":-49.8},{"f":559,"v":-48.7},{"f":560,"v":-50.4},{"f":561,"v":-52.9},{"f":563,"v":-53.8},{"f":566,"v":-54.5},{"f":568,"v":-52.6},{"f":570,"v":-51.6},{"f":572,"v":-53.5},{"f":573,"v":-54},{"f":575,"v":-52.1},{"f":576,"v":-50.8},{"f":578,"v":-53},{"f":579,"v":-54},{"f":581,"v":-52.6},{"f":582,"v":-52.9},{"f":584,"v":-51.5},{"f":587,"v":-50.9},{"f":589,"v":-52.4},{"f":591,"v":-54},{"f":593,"v":-53.6},{"f":595,"v":-54.8},{"f":597,"v":-54.5},{"f":598,"v":-50},{"f":599,"v":-45.5},{"f":600,"v":-52},{"f":601,"v":-55.1},{"f":602,"v":-45.5},{"f":603,"v":-54.5},{"f":604,"v":-55},{"f":606,"v":-51.6},{"f":608,"v":-55.1},{"f":610,"v":-53.9},{"f":612,"v":-50},{"f":613,"v":-54.5},{"f":615,"v":-54.2},{"f":618,"v":-55.1},{"f":620,"v":-54.8},{"f":621,"v":-56.4},{"f":623,"v":-50},{"f":624,"v":-44.9},{"f":625,"v":-47},{"f":626,"v":-48.4},{"f":628,"v":-53.2},{"f":629,"v":-50.6},{"f":631,"v":-54.5},{"f":633,"v":-50.3},{"f":635,"v":-54.5},{"f":637,"v":-52.5},{"f":638,"v":-50.3},{"f":641,"v":-52.6},{"f":643,"v":-53.8},{"f":645,"v":-51.9},{"f":646,"v":-53.5},{"f":648,"v":-55.8},{"f":650,"v":-56.4},{"f":652,"v":-57.4},{"f":654,"v":-51.6},{"f":655,"v":-57.7},{"f":657,"v":-55.8},{"f":658,"v":-53.5},{"f":660,"v":-51.6},{"f":661,"v":-55.8},{"f":663,"v":-54.5},{"f":665,"v":-52.3},{"f":667,"v":-55.8},{"f":670,"v":-53.9},{"f":672,"v":-51},{"f":674,"v":-50.5},{"f":676,"v":-49},{"f":677,"v":-45.8},{"f":679,"v":-47.4},{"f":680,"v":-49},{"f":682,"v":-50.3},{"f":684,"v":-52.2},{"f":686,"v":-57.4},{"f":687,"v":-55},{"f":689,"v":-50},{"f":690,"v":-57.4},{"f":691,"v":-54},{"f":692,"v":-50},{"f":693,"v":-57.1},{"f":695,"v":-56.5},{"f":697,"v":-57.1},{"f":699,"v":-56.2},{"f":700,"v":-56.4},{"f":702,"v":-56.9},{"f":704,"v":-57.7},{"f":706,"v":-55.8},{"f":708,"v":-55.1},{"f":710,"v":-57.3},{"f":712,"v":-57.7},{"f":714,"v":-56.4},{"f":715,"v":-56.4},{"f":716,"v":-55.8},{"f":717,"v":-52},{"f":718,"v":-43.9},{"f":719,"v":-57.7},{"f":720,"v":-56.3},{"f":721,"v":-52.9},{"f":722,"v":-56},{"f":724,"v":-57.7},{"f":726,"v":-58.3},{"f":727,"v":-55},{"f":728,"v":-51.3},{"f":729,"v":-51.5},{"f":731,"v":-50.8},{"f":733,"v":-49.2},{"f":734,"v":-48.3},{"f":735,"v":-46.8},{"f":736,"v":-47.6},{"f":737,"v":-49},{"f":739,"v":-50.8},{"f":740,"v":-51},{"f":742,"v":-51.7},{"f":743,"v":-49.5},{"f":745,"v":-44.9},{"f":746,"v":-49},{"f":747,"v":-52.3},{"f":748,"v":-50.3},{"f":749,"v":-49.8},{"f":750,"v":-53},{"f":752,"v":-52.5},{"f":753,"v":-54.1},{"f":755,"v":-54.4},{"f":756,"v":-55.3},{"f":757,"v":-57},{"f":758,"v":-59.3},{"f":759,"v":-53.2},{"f":761,"v":-51.8},{"f":763,"v":-49.4},{"f":764,"v":-50.5},{"f":765,"v":-51.6},{"f":766,"v":-55},{"f":767,"v":-58},{"f":768,"v":-52},{"f":769,"v":-43.6},{"f":770,"v":-60.6},{"f":771,"v":-55},{"f":772,"v":-51.3},{"f":773,"v":-60},{"f":774,"v":-57},{"f":775,"v":-54.8},{"f":776,"v":-58},{"f":777,"v":-60},{"f":779,"v":-59.3},{"f":780,"v":-59.7},{"f":782,"v":-60.3},{"f":784,"v":-61.5},{"f":786,"v":-60.6},{"f":788,"v":-60.9},{"f":789,"v":-58},{"f":790,"v":-55.1},{"f":791,"v":-62},{"f":793,"v":-61.8},{"f":795,"v":-63},{"f":796,"v":-63.8},{"f":798,"v":-64.1},{"f":800,"v":-65.4},{"f":802,"v":-64},{"f":803,"v":-66},{"f":804,"v":-69.2},{"f":805,"v":-68.5},{"f":807,"v":-70.5},{"f":809,"v":-75},{"f":810,"v":-66.7},{"f":811,"v":-75.6},{"f":813,"v":-78},{"f":814,"v":-79.5},{"f":816,"v":-81.5},{"f":817,"v":-82.7},{"f":818,"v":-87.2},{"f":819,"v":-84},{"f":820,"v":-84.1},{"f":821,"v":-89.7},{"f":822,"v":-88.5},{"f":823,"v":-89.1},{"f":824,"v":-92.3},{"f":826,"v":-92},{"f":828,"v":-92.5},{"f":829,"v":-93.6},{"f":831,"v":-92.5},{"f":832,"v":-91.7},{"f":834,"v":-90.8},{"f":835,"v":-90.1},{"f":837,"v":-92.3},{"f":839,"v":-89.5},{"f":840,"v":-87.8},{"f":842,"v":-90.4},{"f":843,"v":-88.5},{"f":844,"v":-82},{"f":845,"v":-73.4},{"f":846,"v":-83.3},{"f":847,"v":-81.5},{"f":849,"v":-81.6},{"f":850,"v":-80.1},{"f":851,"v":-83.3},{"f":853,"v":-82.2},{"f":855,"v":-82},{"f":857,"v":-80.1},{"f":859,"v":-81.6},{"f":860,"v":-81.7},{"f":862,"v":-79.5},{"f":863,"v":-77.6},{"f":864,"v":-80},{"f":866,"v":-82},{"f":868,"v":-79.5},{"f":869,"v":-77.2},{"f":870,"v":-80.5},{"f":871,"v":-81.4},{"f":873,"v":-80.4},{"f":874,"v":-80.4},{"f":876,"v":-81.2},{"f":878,"v":-81.4},{"f":880,"v":-80.2},{"f":882,"v":-81.6},{"f":883,"v":-80.8},{"f":885,"v":-80.1},{"f":887,"v":-79.8},{"f":888,"v":-78.2},{"f":889,"v":-80.5},{"f":890,"v":-81.4},{"f":891,"v":-80},{"f":892,"v":-78.8},{"f":894,"v":-80.5},{"f":895,"v":-81.7},{"f":897,"v":-79.8},{"f":898,"v":-78.8},{"f":899,"v":-60},{"f":900,"v":-34.9},{"f":901,"v":-77.6},{"f":902,"v":-79},{"f":904,"v":-80.4},{"f":906,"v":-79.9},{"f":907,"v":-80.1},{"f":909,"v":-80.9},{"f":910,"v":-81},{"f":912,"v":-79.3},{"f":913,"v":-79.2},{"f":915,"v":-80.5},{"f":916,"v":-81.7},{"f":918,"v":-80.1},{"f":920,"v":-80.4},{"f":923,"v":-80.1},{"f":925,"v":-80.7},{"f":927,"v":-81},{"f":928,"v":-79.5},{"f":930,"v":-79.2},{"f":932,"v":-80},{"f":934,"v":-78.6},{"f":935,"v":-78.2},{"f":937,"v":-79.5},{"f":938,"v":-80.6},{"f":940,"v":-81},{"f":941,"v":-81.4},{"f":943,"v":-80},{"f":944,"v":-80.1},{"f":946,"v":-79.3},{"f":948,"v":-78.2},{"f":950,"v":-79.5},{"f":951,"v":-80.3},{"f":953,"v":-79.2},{"f":954,"v":-78.5},{"f":955,"v":-58.8},{"f":956,"v":-70},{"f":957,"v":-82},{"f":959,"v":-82.4},{"f":960,"v":-82.7},{"f":962,"v":-83.5},{"f":963,"v":-83.6},{"f":965,"v":-81.5},{"f":967,"v":-79.2},{"f":968,"v":-81},{"f":970,"v":-82.7},{"f":971,"v":-81.8},{"f":973,"v":-82},{"f":975,"v":-84},{"f":977,"v":-83.2},{"f":978,"v":-84.6},{"f":980,"v":-84},{"f":981,"v":-85.3},{"f":983,"v":-83.5},{"f":985,"v":-82.7},{"f":987,"v":-84.3},{"f":989,"v":-84.6},{"f":991,"v":-83.5},{"f":992,"v":-85.6},{"f":994,"v":-85.9},{"f":996,"v":-84.6},{"f":998,"v":-85.9},{"f":1000,"v":-86.2}],
"notes": [{"x":330,"x2":561,"y":22.4,"y2":15.2},{"x":330,"x2":429,"y":15.0,"y2":7.85},{"x":75.2,"x2":296.6,"y":-45.8,"y2":-52.7},{"x":75.2,"x2":260.5,"y":-53.1,"y2":-60.0},{"x":831.2,"x2":962.1,"y":-12.8,"y2":-19.9},{"x":831.2,"x2":962.5,"y":-20.2,"y2":-27.2}],
"labels": [{"x":331,"y":17.3,"t":"Input -80 dBm, output +3 dBm,"},{"x":331,"y":9.45,"t":"gain of 83 dB"},{"x":75.9,"y":-51.3,"t":"Note increased level of out-of-"},{"x":75.9,"y":-58.5,"t":"band signals (both sides)"},{"x":831.7,"y":-18.3,"t":"2"},{"x":858.1,"y":-18.3,"t":"harmonic has"},{"x":831.7,"y":-25.8,"t":"grown to -34 dBm"}],
"sup": [{"x":841.2,"y":-16.5,"t":"nd"}]
},
"layer": [
{
 "data": {"name": "sa"},
 "mark": {"type": "line", "strokeWidth": 4, "strokeJoin": "round", "strokeCap": "round"},
 "encoding": {
  "x": {"field": "f", "type": "quantitative", "scale": {"domain": [0, 1000], "nice": false, "zero": false},
        "axis": {"orient": "top", "values": [20,40,60,80,120,140,160,180,220,240,260,280,320,340,360,380,420,440,460,480,520,540,560,580,620,640,660,680,720,740,760,780,820,840,860,880,920,940,960,980], "grid": true, "gridColor": "#EFEFEF", "gridWidth": 1.5, "labels": false, "ticks": false, "domain": false, "title": null}},
  "y": {"field": "v", "type": "quantitative", "scale": {"domain": [-110, 20], "nice": false, "zero": false},
        "axis": {"orient": "right", "values": [-108,-106,-104,-102,-98,-96,-94,-92,-88,-86,-84,-82,-78,-76,-74,-72,-68,-66,-64,-62,-58,-56,-54,-52,-48,-46,-44,-42,-38,-36,-34,-32,-28,-26,-24,-22,-18,-16,-14,-12,-8,-6,-4,-2,2,4,6,8,12,14,16,18], "grid": true, "gridColor": "#EFEFEF", "gridWidth": 1.5, "labels": false, "ticks": false, "domain": false, "title": null}},
  "color": {"datum": "SA Noise Floor", "type": "nominal", "scale": {"range": ["#000000"]}, "legend": {"title": null, "legendX": 15, "legendY": -92}}
 }
},
{
 "data": {"name": "lna"},
 "mark": {"type": "line", "strokeWidth": 4, "strokeJoin": "round", "strokeCap": "round"},
 "encoding": {
  "x": {"field": "f", "type": "quantitative", "scale": {"domain": [0, 1000], "nice": false, "zero": false},
        "axis": {"orient": "bottom", "values": [0,100,200,300,400,500,600,700,800,900,1000], "format": "d", "grid": true, "gridColor": "#D9D9D9", "gridWidth": 1.5, "labelAngle": 0, "labelPadding": 30, "title": "Frequency, MHz (1001 pts)", "titlePadding": 20}},
  "y": {"field": "v", "type": "quantitative", "scale": {"domain": [-110, 20], "nice": false, "zero": false},
        "axis": {"orient": "left", "values": [-110,-100,-90,-80,-70,-60,-50,-40,-30,-20,-10,0,10,20], "grid": true, "gridColor": "#D9D9D9", "gridWidth": 1.5, "labelPadding": 33, "title": "Power, dBm (RBW = VBW = 1 kHz, Attn = 0 dB)", "titlePadding": 3}},
  "color": {"datum": "LNA Noise Floor (VNA On)", "type": "nominal", "scale": {"range": ["#4472C4"]}, "legend": {"title": null, "legendX": 354, "legendY": -92}}
 }
},
{
 "data": {"name": "fotx"},
 "mark": {"type": "line", "strokeWidth": 4, "strokeJoin": "round", "strokeCap": "round"},
 "encoding": {
  "x": {"field": "f", "type": "quantitative", "axis": null},
  "y": {"field": "v", "type": "quantitative", "axis": null},
  "color": {"datum": "LNA+FOTx+FORx Noise Floor (VNA Off)", "type": "nominal", "scale": {"range": ["#ED7D31"]}, "legend": {"title": null, "legendX": 843, "legendY": -92}}
 }
},
{
 "data": {"name": "rx"},
 "mark": {"type": "line", "strokeWidth": 4, "strokeJoin": "round", "strokeCap": "round"},
 "encoding": {
  "x": {"field": "f", "type": "quantitative", "axis": null},
  "y": {"field": "v", "type": "quantitative", "axis": null},
  "color": {"datum": "LNA+FORx/Rx, 450 MHz @ -80 dBm", "type": "nominal", "scale": {"range": ["#7030A0"]}, "legend": {"title": null, "legendX": 1496, "legendY": -102, "padding": 14, "strokeColor": "#2F5597", "fillColor": "#FFFFFF", "symbolOffset": 27, "labelOffset": 10, "labelExpr": "datum.label + '\u00a0\u00a0\u00a0\u00a0'", "encode": {"legend": {"update": {"strokeWidth": {"value": 4}}}}}}
 }
},
{
 "data": {"name": "notes"},
 "mark": {"type": "rect", "fill": "#FFFF00"},
 "encoding": {
  "x": {"field": "x", "type": "quantitative", "axis": null},
  "x2": {"field": "x2"},
  "y": {"field": "y", "type": "quantitative", "axis": null},
  "y2": {"field": "y2"}
 }
},
{
 "data": {"name": "labels"},
 "mark": {"type": "text", "align": "left", "baseline": "alphabetic", "font": "Liberation Sans", "fontSize": 37, "fill": "#000000"},
 "encoding": {
  "x": {"field": "x", "type": "quantitative", "axis": null},
  "y": {"field": "y", "type": "quantitative", "axis": null},
  "text": {"field": "t"}
 }
},
{
 "data": {"name": "sup"},
 "mark": {"type": "text", "align": "left", "baseline": "alphabetic", "font": "Liberation Sans", "fontSize": 26, "fill": "#000000"},
 "encoding": {
  "x": {"field": "x", "type": "quantitative", "axis": null},
  "y": {"field": "y", "type": "quantitative", "axis": null},
  "text": {"field": "t"}
 }
}
],
"resolve": {"scale": {"color": "independent"}, "axis": {"x": "independent", "y": "independent"}}
}
